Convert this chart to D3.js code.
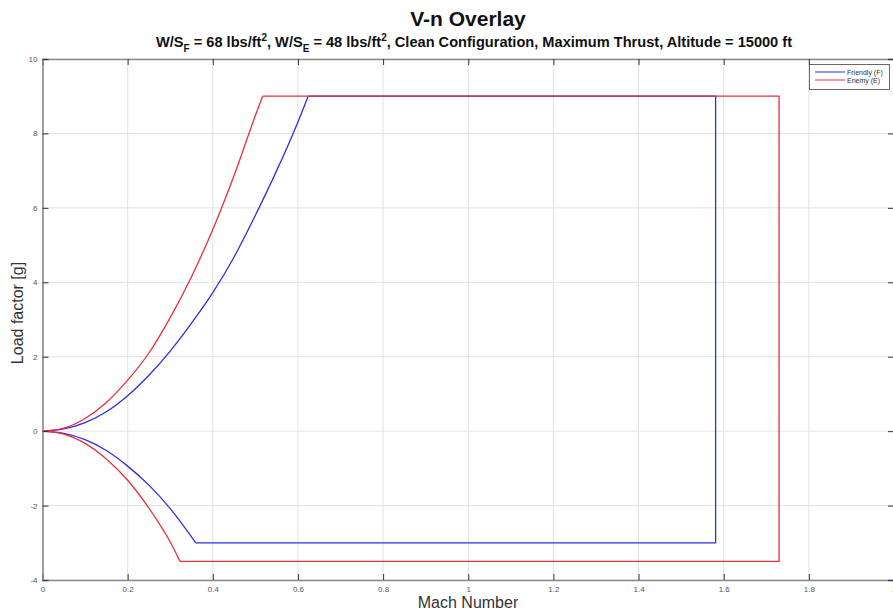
<!DOCTYPE html>
<html>
<head>
<meta charset="utf-8">
<script src="https://cdn.jsdelivr.net/npm/d3@7"></script>
<style>
  html, body { margin: 0; padding: 0; background: #fff; }
  svg { display: block; font-family: "Liberation Sans", Arial, sans-serif; }
</style>
</head>
<body>
<svg id="chart" width="893" height="613"></svg>
<script>
// Friendly aircraft: stall-limited curves (Mach, load factor) and the structural / speed limits
const friendlyUpperMach = [0, 0.05, 0.1, 0.15, 0.2, 0.25, 0.3, 0.35, 0.4, 0.45, 0.5, 0.55, 0.6, 0.624];
const friendlyUpperLoad = [0, 0.06, 0.23, 0.52, 0.95, 1.5, 2.15, 2.9, 3.72, 4.68, 5.8, 7.0, 8.31, 9.0];
const friendlyLowerMach = [0, 0.05, 0.1, 0.15, 0.2, 0.25, 0.3, 0.36];
const friendlyLowerLoad = [0, -0.06, -0.23, -0.52, -0.94, -1.45, -2.08, -3.0];
const friendlyMaxMach = 1.581;

// Enemy aircraft
const enemyUpperMach = [0, 0.05, 0.1, 0.15, 0.2, 0.25, 0.3, 0.35, 0.4, 0.45, 0.5, 0.517];
const enemyUpperLoad = [0, 0.08, 0.34, 0.77, 1.37, 2.1, 3.05, 4.15, 5.42, 6.87, 8.48, 9.0];
const enemyLowerMach = [0, 0.05, 0.1, 0.15, 0.2, 0.25, 0.3, 0.323];
const enemyLowerLoad = [0, -0.08, -0.33, -0.75, -1.32, -2.07, -2.98, -3.5];
const enemyMaxMach = 1.73;

const seriesNames = ["Friendly (F)", "Enemy (E)"];
const seriesColors = ["#2e2ee0", "#e8303c"];

const xTicks = [0, 0.2, 0.4, 0.6, 0.8, 1, 1.2, 1.4, 1.6, 1.8, 2];
const yTicks = [-4, -2, 0, 2, 4, 6, 8, 10];

const svg = d3.select("#chart");
const plotLeft = 42.5, plotRight = 894, plotTop = 59, plotBottom = 580;

const x = d3.scaleLinear().domain([0, 2]).range([plotLeft, plotRight]);
const y = d3.scaleLinear().domain([-4, 10]).range([plotBottom, plotTop]);

// grid
const grid = svg.append("g").attr("stroke", "#e2e2e2").attr("stroke-width", 1);
grid.selectAll(".gx").data(xTicks).join("line").attr("class", "gx")
  .attr("x1", d => x(d)).attr("x2", d => x(d)).attr("y1", plotTop).attr("y2", plotBottom);
grid.selectAll(".gy").data(yTicks).join("line").attr("class", "gy")
  .attr("y1", d => y(d)).attr("y2", d => y(d)).attr("x1", plotLeft).attr("x2", plotRight);

// envelopes: smooth stall curves plus straight limit lines
const smooth = d3.line().x(d => x(d[0])).y(d => y(d[1])).curve(d3.curveMonotoneX);
const straight = d3.line().x(d => x(d[0])).y(d => y(d[1]));

const envelopes = [
  { upper: d3.zip(friendlyUpperMach, friendlyUpperLoad),
    lower: d3.zip(friendlyLowerMach, friendlyLowerLoad), maxMach: friendlyMaxMach },
  { upper: d3.zip(enemyUpperMach, enemyUpperLoad),
    lower: d3.zip(enemyLowerMach, enemyLowerLoad), maxMach: enemyMaxMach }
];

envelopes.forEach((env, i) => {
  const g = svg.append("g").attr("fill", "none").attr("stroke", seriesColors[i])
    .attr("stroke-width", 1.3).attr("stroke-linejoin", "miter");
  g.append("path").attr("d", smooth(env.upper));
  g.append("path").attr("d", smooth(env.lower));
  const top = env.upper[env.upper.length - 1];
  const bot = env.lower[env.lower.length - 1];
  g.append("path").attr("d", straight([top, [env.maxMach, top[1]], [env.maxMach, bot[1]], bot]));
});

// axes box with inward ticks
const tickLen = 6;
const fmt = d => String(d);
const xb = svg.append("g").attr("transform", `translate(0,${plotBottom})`)
  .call(d3.axisBottom(x).tickValues(xTicks).tickSize(-tickLen).tickPadding(5).tickFormat(fmt));
const xt = svg.append("g").attr("transform", `translate(0,${plotTop})`)
  .call(d3.axisTop(x).tickValues(xTicks).tickSize(-tickLen).tickFormat(""));
const yl = svg.append("g").attr("transform", `translate(${plotLeft},0)`)
  .call(d3.axisLeft(y).tickValues(yTicks).tickSize(-tickLen).tickPadding(5).tickFormat(fmt));
const yr = svg.append("g").attr("transform", `translate(${plotRight},0)`)
  .call(d3.axisRight(y).tickValues(yTicks).tickSize(-tickLen).tickFormat(""));

[xb, xt, yl, yr].forEach(g => {
  g.select(".domain").attr("stroke", "#8a8a8a").attr("stroke-width", 1.6);
  g.selectAll(".tick line").attr("stroke", "#333").attr("stroke-width", 1);
  g.selectAll(".tick text").attr("fill", "#555").attr("font-size", 8)
    .attr("font-family", "'Liberation Sans', Arial, sans-serif");
});
xb.selectAll(".tick text").attr("dy", "0.9em");

// axis titles
svg.append("text").attr("x", 468).attr("y", 608).attr("text-anchor", "middle")
  .attr("font-size", 16).attr("fill", "#333").text("Mach Number");
svg.append("text").attr("transform", "translate(23,313) rotate(-90)")
  .attr("text-anchor", "middle").attr("font-size", 16).attr("fill", "#333")
  .text("Load factor [g]");

// titles
svg.append("text").attr("x", 468).attr("y", 26).attr("text-anchor", "middle")
  .attr("font-size", 21).attr("font-weight", "bold").attr("fill", "#111")
  .text("V-n Overlay");

const sub = svg.append("text").attr("x", 474).attr("y", 47).attr("text-anchor", "middle")
  .attr("font-size", 14.6).attr("font-weight", "bold").attr("fill", "#111");
const parts = [
  ["W/S", 0], ["F", 1], [" = 68 lbs/ft", 0], ["2", 2],
  [", W/S", 0], ["E", 1], [" = 48 lbs/ft", 0], ["2", 2],
  [", Clean Configuration, Maximum Thrust, Altitude = 15000 ft", 0]
];
let shift = 0;
parts.forEach(([t, kind]) => {
  const target = kind === 1 ? 5 : kind === 2 ? -6 : 0;
  const ts = sub.append("tspan").text(t).attr("dy", target - shift);
  if (kind) ts.attr("font-size", 10);
  shift = target;
});

// legend
const lg = svg.append("g");
lg.append("rect").attr("x", 809.5).attr("y", 64.5).attr("width", 80).attr("height", 25)
  .attr("fill", "#fff").attr("stroke", "#444").attr("stroke-width", 0.8);
seriesNames.forEach((name, i) => {
  const yy = 72 + i * 8;
  lg.append("line").attr("x1", 815).attr("x2", 845).attr("y1", yy).attr("y2", yy)
    .attr("stroke", seriesColors[i]).attr("stroke-width", 1);
  lg.append("text").attr("x", 847).attr("y", yy + 2.5).attr("font-size", 7)
    .attr("fill", "#333").text(name);
});
</script>
</body>
</html>
